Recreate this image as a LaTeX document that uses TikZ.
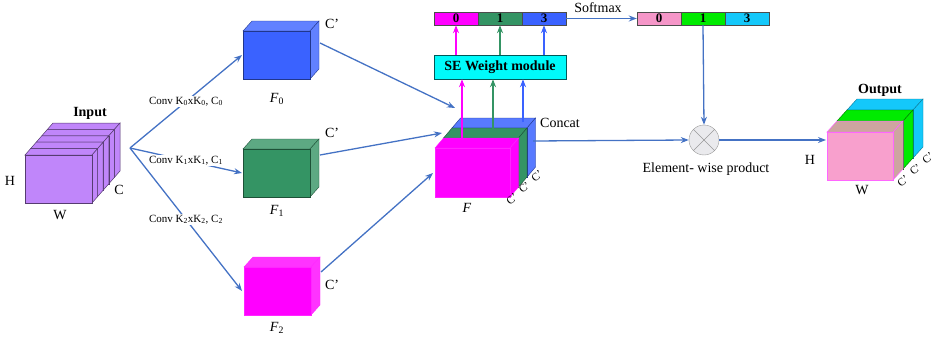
\documentclass[tikz,border=0pt]{standalone}
\usepackage{fontspec}
\setmainfont{Liberation Serif}
\usetikzlibrary{arrows.meta,positioning,calc}

\definecolor{linkblue}{RGB}{68,114,196}
\definecolor{inputpurple}{RGB}{192,134,250}
\definecolor{fzero}{RGB}{58,98,255}
\definecolor{fone}{RGB}{52,148,100}
\definecolor{ftwo}{RGB}{255,0,255}
\definecolor{outpink}{RGB}{248,160,205}
\definecolor{outtan}{RGB}{205,165,160}
\definecolor{outgreen}{RGB}{0,235,0}
\definecolor{outcyan}{RGB}{20,200,250}
\definecolor{sepink}{RGB}{245,150,200}
\definecolor{secyan}{RGB}{0,250,250}

% one slab of a tensor: front style, top/side style, front corners, depth (dx, rise)
\newcommand{\tensorslab}[8]{%
  \filldraw[#2] (#3,#4) -- ({#3+#7},{#4-#8}) -- ({#5+#7},{#4-#8}) -- (#5,#4) -- cycle;
  \filldraw[#2] (#5,#4) -- ({#5+#7},{#4-#8}) -- ({#5+#7},{#6-#8}) -- (#5,#6) -- cycle;
  \filldraw[#1] (#3,#4) rectangle (#5,#6);
}

\begin{document}
\begin{tikzpicture}[x=1pt, y=-1pt,
    font=\fontsize{14}{16}\selectfont,
    >={Stealth[length=8pt,width=6pt]},
    link/.style={->, draw=linkblue, line width=1.3pt},
    convlabel/.style={fill=white, inner sep=1pt, font=\fontsize{11}{13}\selectfont},
    cell/.style={draw=black!70, minimum width=44pt, minimum height=13pt, inner sep=0pt,
                 font=\bfseries\fontsize{13}{14}\selectfont},
    depth/.style={rotate=40, inner sep=0pt, font=\fontsize{11}{12}\selectfont}]
  \useasboundingbox (0,0) rectangle (938,340);

  % Input tensor (stack of channel slices)
  \foreach \k in {4,3,2,1,0}
    \tensorslab{fill=inputpurple, draw=inputpurple!45!black, line width=0.5pt}
               {fill=inputpurple, draw=inputpurple!45!black, line width=0.5pt}
               {25+5.6*\k}{155-6.4*\k}{92+5.6*\k}{203-6.4*\k}{5.6}{6.4};
  \node[font=\bfseries\fontsize{14}{16}\selectfont] (lbl-input) at (90,113) {Input};
  \node (lbl-h) at (10,181) {H};
  \node (lbl-w) at (60,215) {W};
  \node (lbl-c) at (119,190) {C};

  % Branch convolutions
  \coordinate (split) at (130,148);
  \coordinate (f0-in) at (242,55);
  \coordinate (f1-in) at (242,173);
  \coordinate (f2-in) at (242,291);
  \draw[link] (split) -- (f0-in) node[convlabel, pos=0.5] (conv0) {Conv K\textsubscript{0}xK\textsubscript{0}, C\textsubscript{0}};
  \draw[link] (split) -- (f1-in) node[convlabel, pos=0.5] (conv1) {Conv K\textsubscript{1}xK\textsubscript{1}, C\textsubscript{1}};
  \draw[link] (split) -- (f2-in) node[convlabel, pos=0.5] (conv2) {Conv K\textsubscript{2}xK\textsubscript{2}, C\textsubscript{2}};

  % Branch outputs F0, F1, F2
  \tensorslab{fill=fzero, draw=fzero!55!black, line width=0.4pt}
             {fill=fzero!80!white, draw=fzero!55!black, line width=0.4pt}
             {243}{31}{310}{79}{9}{10};
  \tensorslab{fill=fone, draw=fone!55!black, line width=0.4pt}
             {fill=fone!80!white, draw=fone!55!black, line width=0.4pt}
             {243}{149}{310}{197}{9}{10};
  \tensorslab{fill=ftwo, draw=ftwo!85!white, line width=0.4pt}
             {fill=ftwo!80!white, draw=ftwo!85!white, line width=0.4pt}
             {244}{267}{311}{315}{9}{10};
  \node (c0) at (332,24) {C’};
  \node (c1) at (332,133) {C’};
  \node (c2) at (332,285) {C’};
  \node (lbl-f0) at (277,99) {\textit{F}\textsubscript{0}};
  \node (lbl-f1) at (277,211) {\textit{F}\textsubscript{1}};
  \node (lbl-f2) at (277,328) {\textit{F}\textsubscript{2}};

  % Into the concatenation
  \coordinate (f0-out) at (320,43);
  \coordinate (f1-out) at (320,155);
  \coordinate (f2-out) at (321,272);
  \coordinate (cat-in0) at (455,108);
  \coordinate (cat-in1) at (442,133);
  \coordinate (cat-in2) at (433,173);
  \draw[link] (f0-out) -- (cat-in0);
  \draw[link] (f1-out) -- (cat-in1);
  \draw[link] (f2-out) -- (cat-in2);

  % Concatenated feature F
  \tensorslab{fill=fzero, draw=fzero!55!black, line width=0.4pt}
             {fill=fzero!85!white, draw=fzero!55!black, line width=0.4pt}
             {452}{128}{527}{177}{8.5}{10};
  \tensorslab{fill=fone, draw=fone!55!black, line width=0.4pt}
             {fill=fone, draw=fone!55!black, line width=0.4pt}
             {443.5}{138}{518.5}{187}{8.5}{10};
  \tensorslab{fill=ftwo, draw=ftwo!85!white, line width=0.4pt}
             {fill=ftwo, draw=ftwo!85!white, line width=0.4pt}
             {435}{148}{510}{197}{8.5}{10};
  \node (lbl-f) at (467,208) {\textit{F}};
  \node (lbl-concat) at (560,123) {Concat};
  \node[depth] (cat-d0) at (512,199) {C’};
  \node[depth] (cat-d1) at (524.5,187.5) {C’};
  \node[depth] (cat-d2) at (537,176) {C’};

  % SE weight module and its weight vector
  \node[draw=teal!70!black, fill=secyan, minimum width=132pt, minimum height=24pt, inner sep=0pt,
        font=\bfseries\fontsize{14}{16}\selectfont] (se) at (500,67) {SE Weight module};
  \node[cell, fill=ftwo] (w0) at (456,18.5) {0};
  \node[cell, fill=fone] (w1) at (500,18.5) {1};
  \node[cell, fill=fzero] (w3) at (544,18.5) {3};

  \coordinate (cat-m) at (462,146);
  \coordinate (cat-g) at (493,133);
  \coordinate (cat-b) at (523,122);
  \draw[->, draw=ftwo, line width=1.1pt] (cat-m) -- (cat-m |- se.south);
  \draw[->, draw=fone, line width=1.1pt] (cat-g) -- (cat-g |- se.south);
  \draw[->, draw=fzero, line width=1.1pt] (cat-b) -- (cat-b |- se.south);
  \draw[->, draw=ftwo, line width=1.1pt] (w0.south |- se.north) -- (w0.south);
  \draw[->, draw=fone, line width=1.1pt] (w1.south |- se.north) -- (w1.south);
  \draw[->, draw=fzero, line width=1.1pt] (w3.south |- se.north) -- (w3.south);

  % Softmax weights
  \node[cell, fill=sepink] (s0) at (659,18.5) {0};
  \node[cell, fill=outgreen] (s1) at (703,18.5) {1};
  \node[cell, fill=outcyan] (s3) at (747,18.5) {3};
  \draw[link] (w3.east) -- (s0.west);
  \node (lbl-softmax) at (598,8) {Softmax};

  % Element-wise product
  \node[circle, draw=gray!80, fill=blue!8!gray!15, minimum size=30pt, inner sep=0pt] (mul) at (704,140) {};
  \draw[gray!80] (mul.north west) -- (mul.south east);
  \draw[gray!80] (mul.north east) -- (mul.south west);
  \node (lbl-mul) at (706,169) {Element- wise product};
  \coordinate (cat-out) at (533,141);
  \draw[link] (cat-out) -- (mul.west);
  \draw[link] (s1.south) -- (mul.north);

  % Output tensor
  \coordinate (out-in) at (826,140);
  \draw[link] (mul.east) -- (out-in);
  \tensorslab{fill=outcyan, draw=outcyan!60!black, line width=0.4pt}
             {fill=outcyan, draw=outcyan!60!black, line width=0.4pt}
             {847}{110}{913}{158}{10}{11};
  \tensorslab{fill=outgreen, draw=outgreen!50!black, line width=0.4pt}
             {fill=outgreen, draw=outgreen!50!black, line width=0.4pt}
             {837}{121}{903}{169}{10}{11};
  \tensorslab{fill=outpink, draw=ftwo!60!white, line width=0.5pt}
             {fill=outtan, draw=ftwo!60!white, line width=0.5pt}
             {827}{132}{893}{180}{10}{11};
  \node[font=\bfseries\fontsize{14}{16}\selectfont] (lbl-output) at (880,90) {Output};
  \node (lbl-oh) at (810,160) {H};
  \node (lbl-ow) at (862,190) {W};
  \node[depth] (out-d0) at (903,181) {C’};
  \node[depth] (out-d1) at (915.5,169.5) {C’};
  \node[depth] (out-d2) at (928,158) {C’};
\end{tikzpicture}
\end{document}
